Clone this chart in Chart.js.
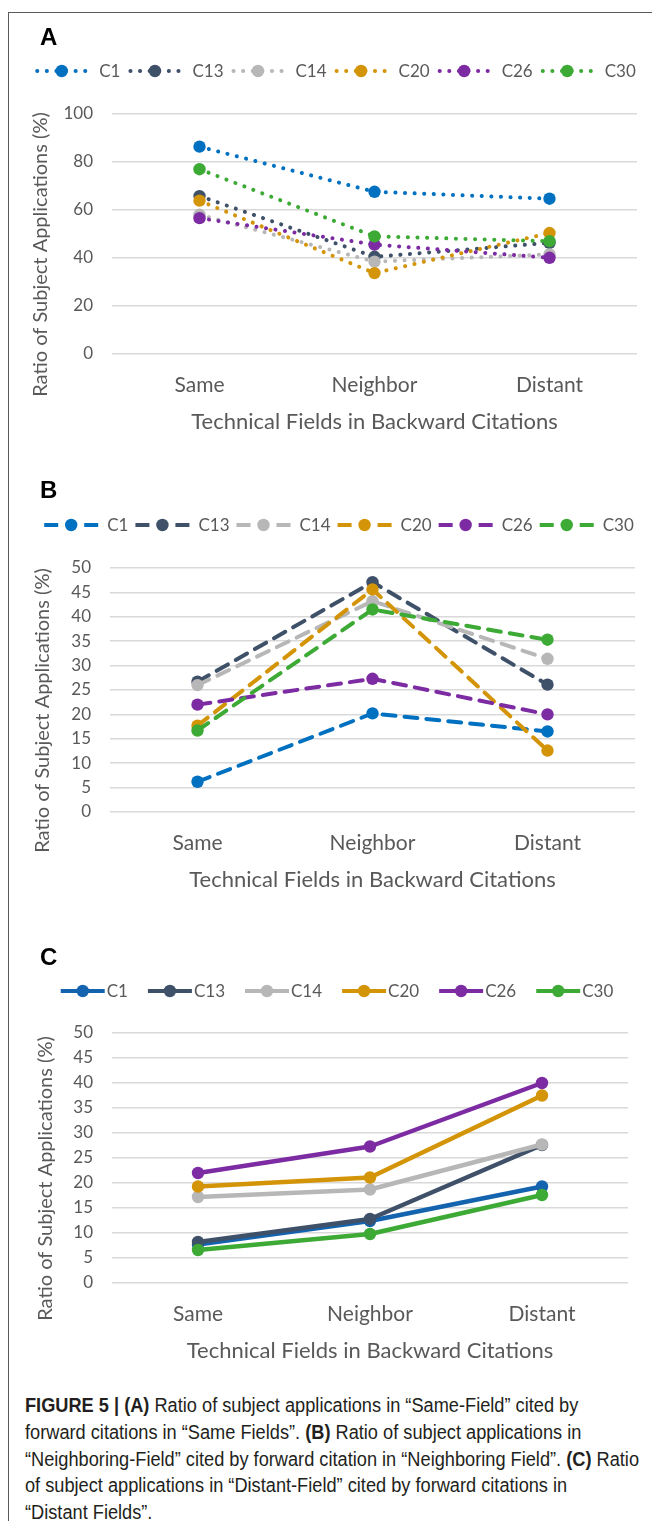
<!DOCTYPE html>
<html>
<head>
<meta charset="utf-8">
<script src="https://cdn.jsdelivr.net/npm/chart.js@4.4.1/dist/chart.umd.min.js"></script>
<style>
  html, body { margin: 0; padding: 0; background: #fff; }
  body { width: 652px; height: 1521px; position: relative; overflow: hidden; }
  #frame { position: absolute; left: 8px; top: 12px; width: 660px; height: 1530px;
           border-top: 1.5px solid #5a5a5a; border-left: 1.5px solid #5a5a5a; }
  canvas { position: absolute; left: 0; }
  #caption { position: absolute; left: 25px; top: 1392px; white-space: nowrap;
             font-family: "Liberation Sans", Arial, sans-serif;
             font-size: 20px; line-height: 26.8px; color: #231f20;
             transform: scaleX(0.91); transform-origin: 0 0; }
  #caption b { font-weight: bold; }
</style>
</head>
<body>
<div id="frame"></div>
<canvas id="chartA" width="652" height="460" style="top:0px"></canvas>
<canvas id="chartB" width="652" height="470" style="top:460px"></canvas>
<canvas id="chartC" width="652" height="450" style="top:930px"></canvas>
<div id="caption"><b>FIGURE 5 | (A)</b> Ratio of subject applications in “Same-Field” cited by<br>forward citations in “Same Fields”. <b>(B)</b> Ratio of subject applications in<br>“Neighboring-Field” cited by forward citation in “Neighboring Field”. <b>(C)</b> Ratio<br>of subject applications in “Distant-Field” cited by forward citations in<br>“Distant Fields”.</div>

<script>
// ---- data ----
const categories = ['Same', 'Neighbor', 'Distant'];
const seriesNames = ['C1', 'C13', 'C14', 'C20', 'C26', 'C30'];

// (A) same-field forward citations
const sameC1  = [86.4, 67.6, 64.7];
const sameC13 = [65.8, 40.5, 46.3];
const sameC14 = [58.0, 38.5, 41.5];
const sameC20 = [63.9, 33.7, 50.4];
const sameC26 = [56.6, 45.6, 40.1];
const sameC30 = [77.0, 49.0, 47.0];

// (B) neighboring-field forward citations
const neighborC1  = [6.2, 20.2, 16.5];
const neighborC13 = [26.7, 47.1, 26.1];
const neighborC14 = [26.0, 43.2, 31.4];
const neighborC20 = [17.7, 45.6, 12.6];
const neighborC26 = [22.0, 27.3, 20.0];
const neighborC30 = [16.7, 41.5, 35.3];

// (C) distant-field forward citations
const distantC1  = [7.7, 12.4, 19.3];
const distantC13 = [8.2, 12.8, 27.6];
const distantC14 = [17.2, 18.7, 27.7];
const distantC20 = [19.3, 21.1, 37.5];
const distantC26 = [22.0, 27.3, 40.0];
const distantC30 = [6.6, 9.8, 17.6];

const ticksA = [0, 20, 40, 60, 80, 100];
const ticksBC = [0, 5, 10, 15, 20, 25, 30, 35, 40, 45, 50];

const xAxisTitle = 'Technical Fields in Backward Citations';
const yAxisTitle = 'Ratio of Subject Applications (%)';

// ---- styling ----
const colorsAB = ['#0070C0', '#3F5069', '#B7B7B7', '#D49408', '#7D2BA3', '#3DAA36'];
const colorsC  = ['#1463AE', '#3F5069', '#B7B7B7', '#D49408', '#7D2BA3', '#3DAA36'];
const TEXT_GRAY = '#595959';
const FONT = 'Lato, "Open Sans", sans-serif';
const MARKER_R = 6.2;

// Panel letter, legend row and axis titles
const panelDecor = {
  id: 'panelDecor',
  afterDraw(chart, args, o) {
    const ctx = chart.ctx;
    const a = chart.chartArea;
    ctx.save();

    ctx.fillStyle = '#000';
    ctx.font = 'bold 24px "Liberation Sans", Arial, sans-serif';
    ctx.textAlign = 'left';
    ctx.textBaseline = 'middle';
    ctx.fillText(o.letter, o.letterX, o.letterY);

    // legend
    ctx.font = o.legendSize + 'px ' + FONT;
    const sets = chart.data.datasets;
    const widths = sets.map(d => ctx.measureText(d.label).width);
    let total = 0;
    widths.forEach(w => { total += o.sampleW + o.textGap + w; });
    total += o.itemGap * (sets.length - 1);
    let x = o.legendCenter - total / 2;
    sets.forEach((d, i) => {
      const y = o.legendY;
      ctx.strokeStyle = d.borderColor;
      ctx.lineWidth = 4;
      ctx.lineCap = 'round';
      ctx.beginPath();
      if (o.style === 'dot') {
        ctx.setLineDash([0.1, 9.5]);
        ctx.moveTo(x + 3, y); ctx.lineTo(x + o.sampleW - 2, y);
      } else if (o.style === 'dash') {
        ctx.setLineDash([]);
        ctx.lineCap = 'butt';
        ctx.moveTo(x, y); ctx.lineTo(x + 14, y);
        ctx.moveTo(x + o.sampleW - 14, y); ctx.lineTo(x + o.sampleW, y);
      } else {
        ctx.setLineDash([]);
        ctx.lineCap = 'butt';
        ctx.moveTo(x, y); ctx.lineTo(x + o.sampleW, y);
      }
      ctx.stroke();
      ctx.setLineDash([]);
      ctx.fillStyle = d.borderColor;
      ctx.beginPath();
      ctx.arc(x + o.sampleW / 2, y, MARKER_R, 0, Math.PI * 2);
      ctx.fill();
      ctx.fillStyle = TEXT_GRAY;
      ctx.textAlign = 'left';
      ctx.fillText(d.label, x + o.sampleW + o.textGap, y + 1);
      x += o.sampleW + o.textGap + widths[i] + o.itemGap;
    });

    // axis titles
    ctx.fillStyle = TEXT_GRAY;
    ctx.textAlign = 'center';
    ctx.textBaseline = 'middle';
    ctx.font = o.xTitleSize + 'px ' + FONT;
    ctx.fillText(xAxisTitle, (a.left + a.right) / 2, a.bottom + 68);
    ctx.font = o.yTitleSize + 'px ' + FONT;
    ctx.translate(o.yTitleX, (a.top + a.bottom + 41) / 2);
    ctx.rotate(-Math.PI / 2);
    ctx.fillText(yAxisTitle, 0, 0);
    ctx.restore();
  }
};

function makeDatasets(seriesValues, colors, style) {
  return seriesValues.map((vals, i) => {
    const ds = {
      label: seriesNames[i],
      data: vals,
      borderColor: colors[i],
      backgroundColor: colors[i],
      pointBackgroundColor: colors[i],
      pointBorderWidth: 0,
      pointRadius: MARKER_R,
      pointHoverRadius: MARKER_R,
      fill: false,
      tension: 0,
      order: seriesValues.length - 1 - i
    };
    if (style === 'dot') {
      ds.borderWidth = 4;
      ds.borderDash = [0.1, 9.5];
      ds.borderCapStyle = 'round';
    } else if (style === 'dash') {
      ds.borderWidth = 4;
      ds.borderDash = [13, 9];
      ds.borderCapStyle = 'round';
    } else {
      ds.borderWidth = 4.5;
      ds.borderCapStyle = 'round';
      ds.borderJoinStyle = 'round';
    }
    return ds;
  });
}

function makeChart(id, seriesValues, tickValues, colors, style, box, deco) {
  const canvas = document.getElementById(id);
  const H = canvas.height;
  const step = tickValues[1] - tickValues[0];
  return new Chart(canvas, {
    type: 'line',
    data: { labels: categories, datasets: makeDatasets(seriesValues, colors, style) },
    plugins: [panelDecor],
    options: {
      responsive: false,
      animation: false,
      devicePixelRatio: 1,
      layout: { padding: { top: box.top, left: 0, right: 652 - box.right, bottom: H - box.bottom - 60 } },
      plugins: {
        legend: { display: false },
        tooltip: { enabled: false },
        panelDecor: deco
      },
      scales: {
        x: {
          type: 'category',
          offset: true,
          grid: { display: false, drawTicks: false },
          border: { display: false },
          ticks: { color: TEXT_GRAY, font: { family: FONT, size: 21 }, padding: 19 },
          afterFit: s => { s.height = 60; }
        },
        y: {
          min: tickValues[0],
          max: tickValues[tickValues.length - 1],
          grid: { color: '#D9D9D9', lineWidth: 1.5, drawTicks: false },
          border: { display: false },
          ticks: { stepSize: step, color: TEXT_GRAY, font: { family: FONT, size: 17 }, padding: 19, autoSkip: false },
          afterFit: s => { s.width = box.left; }
        }
      }
    }
  });
}

const common = { xTitleSize: 22, yTitleSize: 20, legendSize: 17 };

makeChart('chartA',
  [sameC1, sameC13, sameC14, sameC20, sameC26, sameC30], ticksA, colorsAB, 'dot',
  { top: 114, bottom: 354, left: 112, right: 637 },
  Object.assign({ letter: 'A', letterX: 40, letterY: 38, legendY: 71, legendCenter: 335,
    style: 'dot', sampleW: 55, textGap: 10, itemGap: 7, yTitleX: 41 }, common));

makeChart('chartB',
  [neighborC1, neighborC13, neighborC14, neighborC20, neighborC26, neighborC30], ticksBC, colorsAB, 'dash',
  { top: 108, bottom: 352, left: 110, right: 635 },
  Object.assign({ letter: 'B', letterX: 40, letterY: 31, legendY: 65, legendCenter: 339,
    style: 'dash', sampleW: 54, textGap: 9, itemGap: 7, yTitleX: 43 }, common));

makeChart('chartC',
  [distantC1, distantC13, distantC14, distantC20, distantC26, distantC30], ticksBC, colorsC, 'solid',
  { top: 103, bottom: 353, left: 112, right: 628 },
  Object.assign({ letter: 'C', letterX: 40, letterY: 28, legendY: 61, legendCenter: 337,
    style: 'solid', sampleW: 44, textGap: 2, itemGap: 20, yTitleX: 46 }, common));
</script>
</body>
</html>
